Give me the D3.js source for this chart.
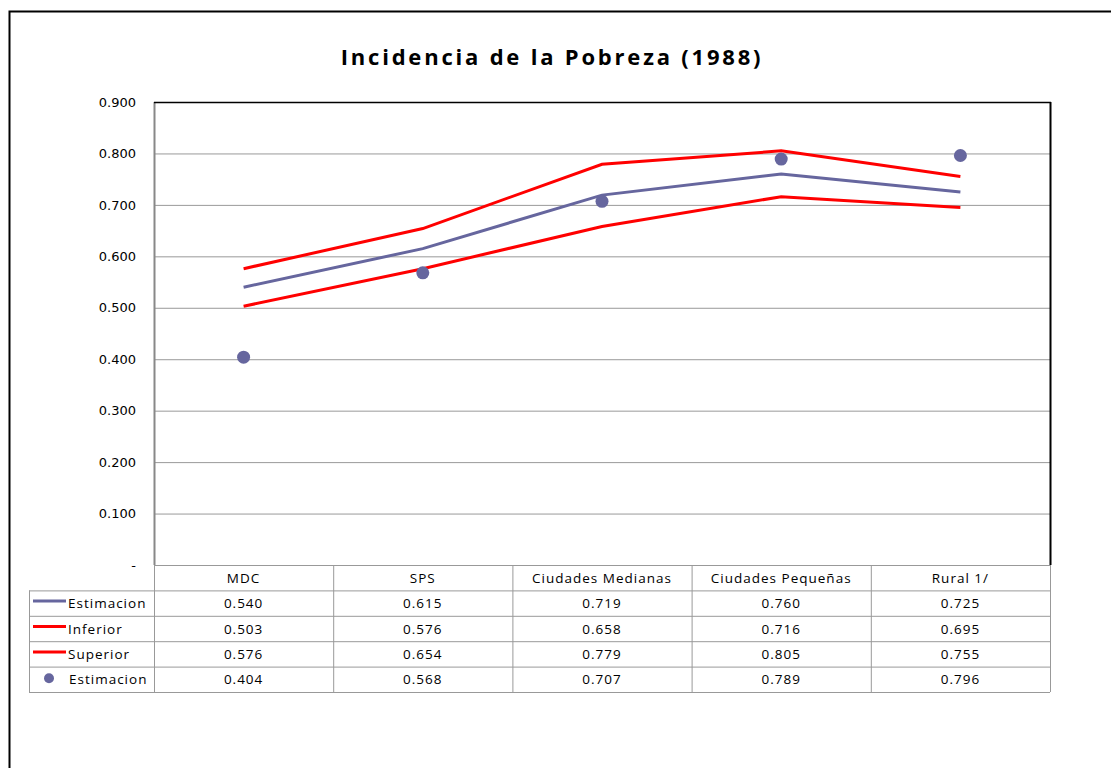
<!DOCTYPE html>
<html>
<head>
<meta charset="utf-8">
<script src="https://cdn.jsdelivr.net/npm/d3@7"></script>
<style>
  body { margin: 0; background: #fff; }
  svg { display: block; }
</style>
</head>
<body>
<div id="chart"></div>
<script>
const categories = ["MDC", "SPS", "Ciudades Medianas", "Ciudades Pequeñas", "Rural 1/"];
const estimacion = [0.540, 0.615, 0.719, 0.760, 0.725];
const inferior = [0.503, 0.576, 0.658, 0.716, 0.695];
const superior = [0.576, 0.654, 0.779, 0.805, 0.755];
const estimacionPts = [0.404, 0.568, 0.707, 0.789, 0.796];
const yTicks = [0, 0.1, 0.2, 0.3, 0.4, 0.5, 0.6, 0.7, 0.8, 0.9];

const series = [
  { name: "Estimacion", values: estimacion, color: "#66669e", type: "line" },
  { name: "Inferior", values: inferior, color: "#ff0000", type: "line" },
  { name: "Superior", values: superior, color: "#ff0000", type: "line" },
  { name: "Estimacion", values: estimacionPts, color: "#66669e", type: "dot" }
];

const width = 1111, height = 768;
const plot = { left: 154, right: 1050, top: 102, bottom: 565 };
const rowH = 25.4;
const legendLeft = 29;

const svg = d3.select("#chart").append("svg")
  .attr("width", width)
  .attr("height", height);

// outer frame
svg.append("rect")
  .attr("x", 9.5).attr("y", 11.5)
  .attr("width", width + 20).attr("height", height + 20)
  .attr("fill", "none").attr("stroke", "#000").attr("stroke-width", 2);

svg.append("text")
  .attr("x", 552).attr("y", 65)
  .attr("text-anchor", "middle")
  .style("font-family", "'Open Sans', sans-serif")
  .style("font-weight", "bold")
  .style("font-size", "22px")
  .style("letter-spacing", "2.8px")
  .text("Incidencia de la Pobreza (1988)");

const x = d3.scaleBand().domain(categories).range([plot.left, plot.right]);
const y = d3.scaleLinear().domain([0, 0.9]).range([plot.bottom, plot.top]);

// gridlines
svg.append("g")
  .selectAll("line")
  .data(yTicks.filter(d => d > 0))
  .join("line")
  .attr("x1", plot.left).attr("x2", plot.right)
  .attr("y1", d => y(d) + 0.5).attr("y2", d => y(d) + 0.5)
  .attr("stroke", "#999").attr("stroke-width", 1);

// y axis labels
const yAxis = d3.axisLeft(y).tickValues(yTicks).tickSize(0).tickPadding(18)
  .tickFormat(d => d === 0 ? "-" : d3.format(".3f")(d));
svg.append("g")
  .attr("transform", `translate(${plot.left},0)`)
  .call(yAxis)
  .call(g => g.select(".domain").remove())
  .call(g => g.selectAll("text")
    .style("font-family", "'DejaVu Sans', sans-serif")
    .style("font-size", "13px")
    .attr("fill", "#000"));

// plot frame
svg.append("line").attr("x1", plot.left + 0.5).attr("x2", plot.left + 0.5)
  .attr("y1", plot.top).attr("y2", plot.bottom).attr("stroke", "#888").attr("stroke-width", 2);
svg.append("line").attr("x1", plot.left).attr("x2", plot.right + 1)
  .attr("y1", plot.top + 0.5).attr("y2", plot.top + 0.5).attr("stroke", "#000").attr("stroke-width", 1.5);
svg.append("line").attr("x1", plot.right + 0.5).attr("x2", plot.right + 0.5)
  .attr("y1", plot.top).attr("y2", plot.bottom).attr("stroke", "#000").attr("stroke-width", 2);

// lines
const line = d3.line()
  .x((d, i) => x(categories[i]) + x.bandwidth() / 2)
  .y(d => y(d));

series.filter(s => s.type === "line").forEach(s => {
  svg.append("path")
    .datum(s.values)
    .attr("fill", "none")
    .attr("stroke", s.color)
    .attr("stroke-width", 3)
    .attr("d", line);
});

series.filter(s => s.type === "dot").forEach(s => {
  svg.append("g").selectAll("circle")
    .data(s.values)
    .join("circle")
    .attr("cx", (d, i) => x(categories[i]) + x.bandwidth() / 2)
    .attr("cy", d => y(d))
    .attr("r", 6.5)
    .attr("fill", s.color);
});

// data table
const table = svg.append("g");
const tableBottom = plot.bottom + rowH * (series.length + 1);
const tableFont = t => t
  .style("font-family", "'Open Sans', sans-serif")
  .style("font-size", "13.5px")
  .style("letter-spacing", "1px")
  .attr("fill", "#000");

// horizontal lines
d3.range(series.length + 2).forEach(i => {
  const yy = plot.bottom + rowH * i;
  table.append("line")
    .attr("x1", i === 0 ? plot.left : legendLeft).attr("x2", plot.right)
    .attr("y1", yy + 0.5).attr("y2", yy + 0.5)
    .attr("stroke", "#999").attr("stroke-width", 1);
});
// vertical lines
categories.forEach(c => {
  table.append("line")
    .attr("x1", x(c) + 0.5).attr("x2", x(c) + 0.5)
    .attr("y1", plot.bottom).attr("y2", tableBottom)
    .attr("stroke", "#999");
});
table.append("line").attr("x1", plot.right + 0.5).attr("x2", plot.right + 0.5)
  .attr("y1", plot.bottom).attr("y2", tableBottom).attr("stroke", "#999");
table.append("line").attr("x1", legendLeft + 0.5).attr("x2", legendLeft + 0.5)
  .attr("y1", plot.bottom + rowH).attr("y2", tableBottom).attr("stroke", "#999");

// header
categories.forEach(c => {
  table.append("text")
    .attr("x", x(c) + x.bandwidth() / 2)
    .attr("y", plot.bottom + rowH / 2 + 5)
    .attr("text-anchor", "middle")
    .call(tableFont)
    .text(c);
});

// rows
series.forEach((s, r) => {
  const rowY = plot.bottom + rowH * (r + 1);
  const mid = rowY + rowH / 2;
  if (s.type === "line") {
    table.append("line")
      .attr("x1", 33).attr("x2", 66)
      .attr("y1", mid - 2).attr("y2", mid - 2)
      .attr("stroke", s.color).attr("stroke-width", 3);
  } else {
    table.append("circle")
      .attr("cx", 49).attr("cy", mid - 1).attr("r", 5)
      .attr("fill", s.color);
  }
  table.append("text")
    .attr("x", s.type === "line" ? 68 : 69)
    .attr("y", mid + 5)
    .call(tableFont)
    .text(s.name);
  s.values.forEach((v, i) => {
    table.append("text")
      .attr("x", x(categories[i]) + x.bandwidth() / 2)
      .attr("y", mid + 5)
      .attr("text-anchor", "middle")
      .call(tableFont)
      .text(d3.format(".3f")(v));
  });
});
</script>
</body>
</html>
